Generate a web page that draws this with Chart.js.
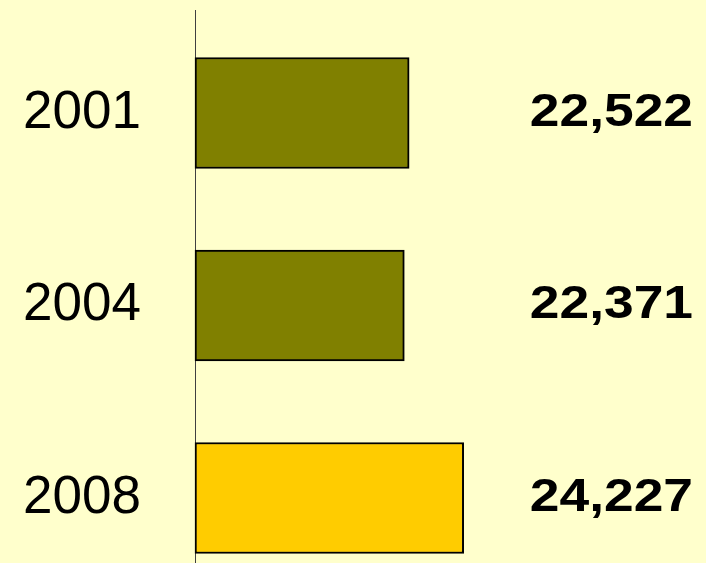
<!DOCTYPE html>
<html>
<head>
<meta charset="utf-8">
<script src="https://cdn.jsdelivr.net/npm/chart.js@4.4.0/dist/chart.umd.min.js"></script>
<style>
  html, body { margin: 0; padding: 0; background: #FFFFCC; }
  canvas { display: block; }
</style>
</head>
<body>
<canvas id="myChart" width="706" height="563"></canvas>
<script>
const years = ['2001', '2004', '2008'];
const values = [22522, 22371, 24227];
const barColors = ['#808000', '#808000', '#FFCC00'];
const axisMin = 15830;

// vertical axis line, longer than the plot area
const axisLine = {
    id: 'axisLine',
    beforeDatasetsDraw(chart) {
        const ctx = chart.ctx;
        const x = Math.round(chart.chartArea.left) + 0.5;
        ctx.save();
        ctx.strokeStyle = '#404040';
        ctx.lineWidth = 1;
        ctx.beginPath();
        ctx.moveTo(x, 10);
        ctx.lineTo(x, chart.height);
        ctx.stroke();
        ctx.restore();
    }
};

// bold numbers at the right
const valueLabels = {
    id: 'valueLabels',
    afterDatasetsDraw(chart) {
        const ctx = chart.ctx;
        const meta = chart.getDatasetMeta(0);
        ctx.save();
        ctx.fillStyle = '#000';
        ctx.font = 'bold 46px "Liberation Sans", Arial, sans-serif';
        ctx.textAlign = 'right';
        ctx.textBaseline = 'middle';
        meta.data.forEach(function (bar, i) {
            ctx.save();
            ctx.translate(693, bar.y);
            ctx.scale(1.16, 1);
            ctx.fillText(values[i].toLocaleString('en-US'), 0, 0);
            ctx.restore();
        });
        ctx.restore();
    }
};

const ctx = document.getElementById('myChart').getContext('2d');
new Chart(ctx, {
    type: 'bar',
    data: {
        labels: years,
        datasets: [{
            data: values,
            base: axisMin,
            backgroundColor: barColors,
            borderColor: '#000000',
            borderWidth: 2,
            borderSkipped: false,
            barThickness: 111,
            clip: false
        }]
    },
    options: {
        indexAxis: 'y',
        responsive: false,
        animation: false,
        layout: { padding: { top: 113, bottom: 65, right: 11, left: 0 } },
        plugins: {
            legend: { display: false },
            tooltip: { enabled: false }
        },
        scales: {
            x: {
                display: false,
                min: axisMin,
                max: 31455
            },
            y: {
                offset: false,
                grid: { display: false, drawTicks: false },
                border: { display: false },
                ticks: {
                    color: '#000',
                    padding: 54,
                    font: { family: '"Liberation Sans", Arial, sans-serif', size: 53 }
                },
                afterFit(scale) {
                    scale.width = 195;
                    scale.paddingTop = 0;
                    scale.paddingBottom = 0;
                }
            }
        }
    },
    plugins: [axisLine, valueLabels]
});
</script>
</body>
</html>
